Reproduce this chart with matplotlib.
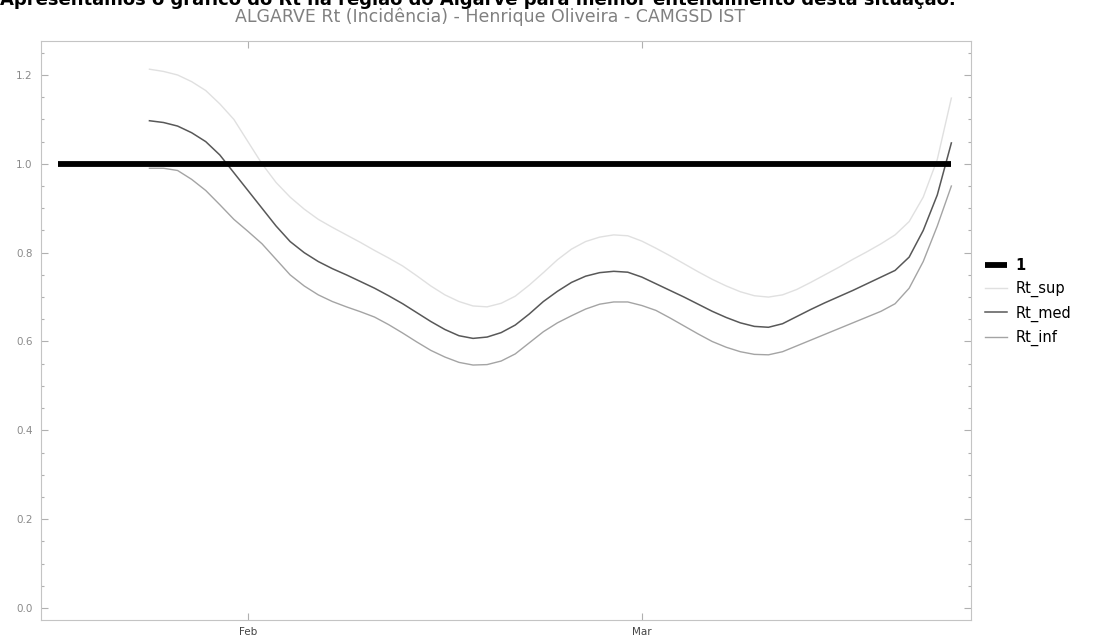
#----------------------------------------------------------------------------------------------------- #
# Modules
#----------------------------------------------------------------------------------------------------- #
import matplotlib
matplotlib.use('Agg')
import matplotlib.pyplot as plt
from matplotlib.ticker import MultipleLocator
import pandas as pd


#----------------------------------------------------------------------------------------------------- #
# Data (one value per day from 25 Jan to 23 Mar)
#----------------------------------------------------------------------------------------------------- #
rt_start = '2021-01-25'
rt_end = '2021-03-23'

rt_sup = [1.213, 1.208, 1.200, 1.185, 1.165, 1.135, 1.100, 1.050, 1.000, 0.958,
          0.925, 0.898, 0.875, 0.857, 0.840, 0.823, 0.805, 0.788, 0.770, 0.748,
          0.725, 0.705, 0.690, 0.680, 0.678, 0.686, 0.702, 0.727, 0.755, 0.784,
          0.808, 0.825, 0.835, 0.840, 0.838, 0.826, 0.810, 0.793, 0.775, 0.757,
          0.740, 0.725, 0.712, 0.703, 0.700, 0.705, 0.717, 0.733, 0.750, 0.767,
          0.785, 0.802, 0.820, 0.840, 0.870, 0.925, 1.010, 1.148]

rt_med = [1.097, 1.093, 1.085, 1.070, 1.050, 1.020, 0.980, 0.940, 0.900, 0.860,
          0.825, 0.800, 0.780, 0.764, 0.750, 0.735, 0.720, 0.703, 0.685, 0.665,
          0.645, 0.627, 0.613, 0.607, 0.610, 0.620, 0.637, 0.662, 0.690, 0.713,
          0.733, 0.747, 0.755, 0.758, 0.756, 0.745, 0.730, 0.715, 0.700, 0.684,
          0.668, 0.654, 0.642, 0.634, 0.632, 0.640, 0.656, 0.672, 0.687, 0.701,
          0.715, 0.730, 0.745, 0.760, 0.790, 0.850, 0.930, 1.047]

rt_inf = [0.990, 0.990, 0.985, 0.965, 0.940, 0.908, 0.875, 0.848, 0.820, 0.785,
          0.750, 0.725, 0.705, 0.690, 0.678, 0.667, 0.655, 0.638, 0.619, 0.599,
          0.580, 0.565, 0.553, 0.547, 0.548, 0.556, 0.572, 0.597, 0.622, 0.642,
          0.658, 0.673, 0.684, 0.689, 0.689, 0.681, 0.670, 0.653, 0.635, 0.617,
          0.600, 0.587, 0.577, 0.571, 0.570, 0.577, 0.590, 0.603, 0.616, 0.629,
          0.642, 0.655, 0.668, 0.685, 0.720, 0.780, 0.860, 0.950]

one_dates = ['2021-01-18 12:00', '2021-03-23 00:00']
one_values = [1.0, 1.0]

y_ticks = [0.0, 0.2, 0.4, 0.6, 0.8, 1.0, 1.2]
x_tick_dates = ['2021-02-01', '2021-03-01']
x_tick_labels = ['Feb', 'Mar']

rt_dates = pd.date_range(rt_start, rt_end, freq='D')
one_dates = pd.to_datetime(one_dates)


#----------------------------------------------------------------------------------------------------- #
# Plot
#----------------------------------------------------------------------------------------------------- #
fig = plt.figure(figsize=(11.16, 6.36), dpi=100)
ax = fig.add_axes([41 / 1116, 16 / 636, 930 / 1116, 579 / 636])

ax.plot(one_dates, one_values, color='black', linewidth=4.2, solid_capstyle='butt', label='1', zorder=3)
ax.plot(rt_dates, rt_sup, color='#e0e0e0', linewidth=1.0, label='Rt_sup')
ax.plot(rt_dates, rt_med, color='#585858', linewidth=1.1, label='Rt_med')
ax.plot(rt_dates, rt_inf, color='#a4a4a4', linewidth=1.0, label='Rt_inf')

ax.set_xlim(pd.Timestamp('2021-01-17 07:00'), pd.Timestamp('2021-03-24 09:30'))
ax.set_ylim(-0.027, 1.2765)

ax.set_yticks(y_ticks)
ax.set_yticklabels(['%.1f' % v for v in y_ticks])
ax.yaxis.set_minor_locator(MultipleLocator(0.05))
ax.set_xticks(pd.to_datetime(x_tick_dates))
ax.set_xticklabels(x_tick_labels)

ax.tick_params(axis='both', which='both', direction='in', top=True, right=True,
               color='#b0b0b0', width=0.8)
ax.tick_params(axis='both', which='major', length=5)
ax.tick_params(axis='both', which='minor', length=2.5)
ax.tick_params(axis='y', labelsize=7.5, labelcolor='#8a8a8a', pad=6)
ax.tick_params(axis='x', labelsize=7.5, labelcolor='#444444', pad=5)

for spine in ax.spines.values():
    spine.set_color('#c4c4c4')
    spine.set_linewidth(0.8)

# Titles (the top line is cut by the edge of the screenshot)
fig.text(0.0, 1 - 5 / 636, 'Apresentamos o gráfico do Rt na região do Algarve para melhor entendimento desta situação.',
         fontsize=13, fontweight='bold', color='black', ha='left', va='baseline')
fig.text(490 / 1116, 1 - 17 / 636, 'ALGARVE Rt (Incidência) - Henrique Oliveira - CAMGSD IST',
         fontsize=12.5, color='#808080', ha='center', va='center')

# Legend outside on the right
leg = ax.legend(loc='center left', bbox_to_anchor=(985 / 1116, 1 - 302 / 636),
                bbox_transform=fig.transFigure, frameon=False, fontsize=10.5,
                handlelength=1.5, handletextpad=0.6, labelspacing=0.55,
                borderpad=0, borderaxespad=0)
leg.get_texts()[0].set_fontweight('bold')

fig.savefig('out.png', dpi=100)
